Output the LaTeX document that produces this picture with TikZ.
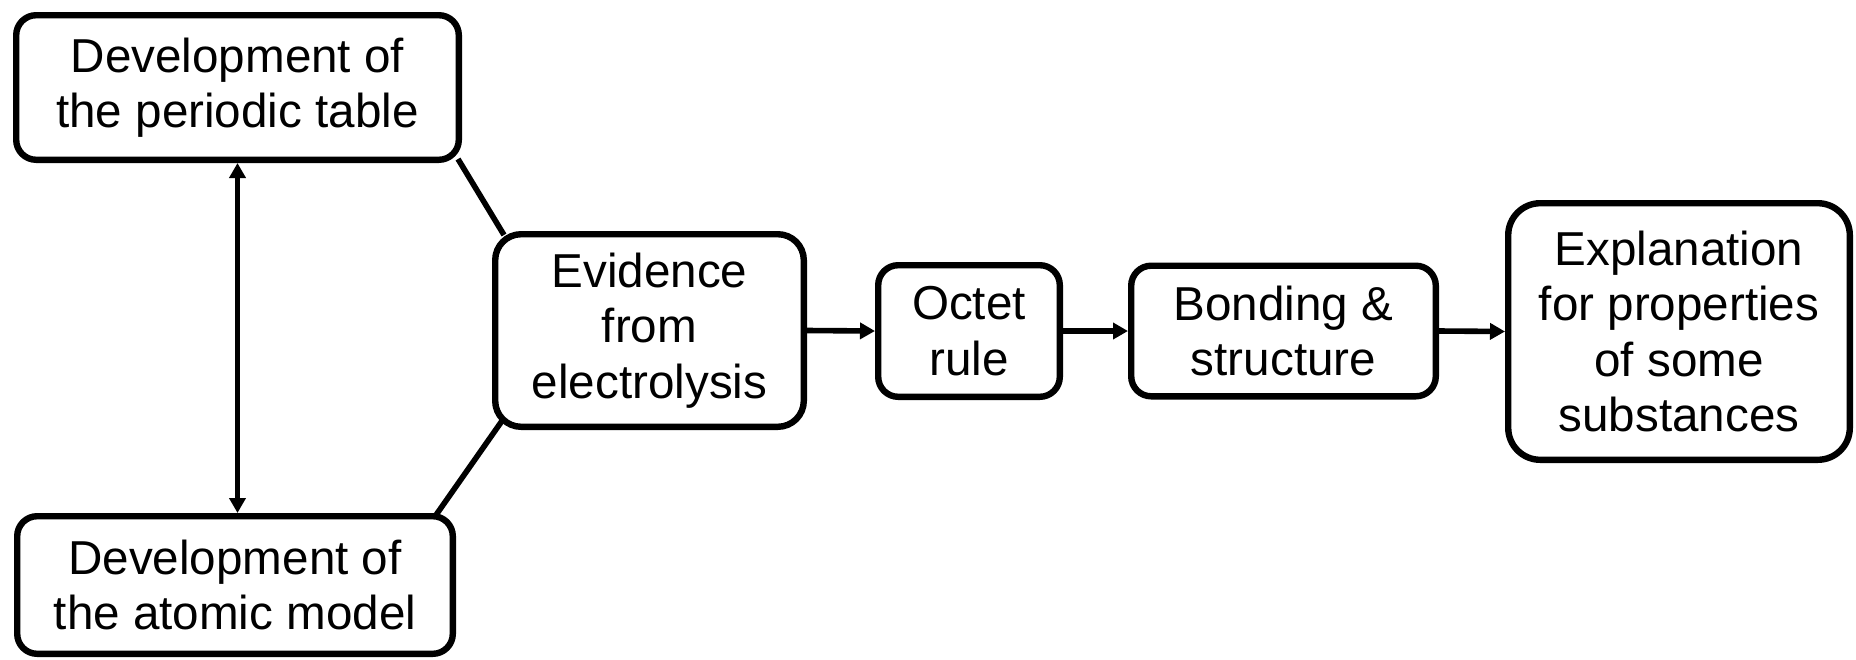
\documentclass[tikz,border=0pt]{standalone}
\usepackage{fontspec}
\setmainfont{Liberation Sans}
\usetikzlibrary{arrows.meta}

\begin{document}
\begin{tikzpicture}[x=0.5pt, y=-0.5pt,
  box/.style={draw, line width=3.2pt, rounded corners=10pt, align=center,
    inner sep=0pt, font=\fontsize{23.8}{27.7}\selectfont},
  link/.style={line width=2.8pt},
  tip/.tip={Triangle[length=7.5pt, width=8pt]},
  flow/.style={line width=2.8pt, -tip},
  both/.style={line width=2.8pt, tip-tip}
]
\useasboundingbox (0,0) rectangle (1856,659);

\node[box, minimum width=221.3pt, minimum height=72.3pt] (periodic) at (237.5,87.5)
  {Development of\\the periodic table};
\node[box, minimum width=217.8pt, minimum height=68.8pt] (atomic) at (235,585)
  {Development of\\the atomic model};
\node[box, rounded corners=13pt, minimum width=154.3pt, minimum height=96.3pt] (evidence) at (649.5,330.5)
  {Evidence\\from\\electrolysis};
\node[box, minimum width=90.8pt, minimum height=65.8pt] (octet) at (969,331)
  {Octet\\rule};
\node[box, minimum width=152.3pt, minimum height=65.3pt] (bonding) at (1283.5,331)
  {Bonding \&\\structure};
\node[box, rounded corners=16pt, minimum width=170.8pt, minimum height=128.3pt] (explain) at (1679,331.5)
  {Explanation\\for properties\\of some\\substances};

% two-way link between the two developments
\draw[both] (periodic.south) -- (periodic.south |- atomic.north);

% both developments feed the electrolysis evidence
\draw[link] ([shift={(-4,-4)}]periodic.south east) -- ([shift={(12,4)}]evidence.north west);
\draw[link] ([shift={(-20,2)}]atomic.north east) -- ([shift={(12,-12)}]evidence.south west);

% main chain
\draw[flow] (evidence.east) -- (octet.west);
\draw[flow] (octet.east) -- (bonding.west);
\draw[flow] (bonding.east) -- (explain.west);
\end{tikzpicture}
\end{document}
